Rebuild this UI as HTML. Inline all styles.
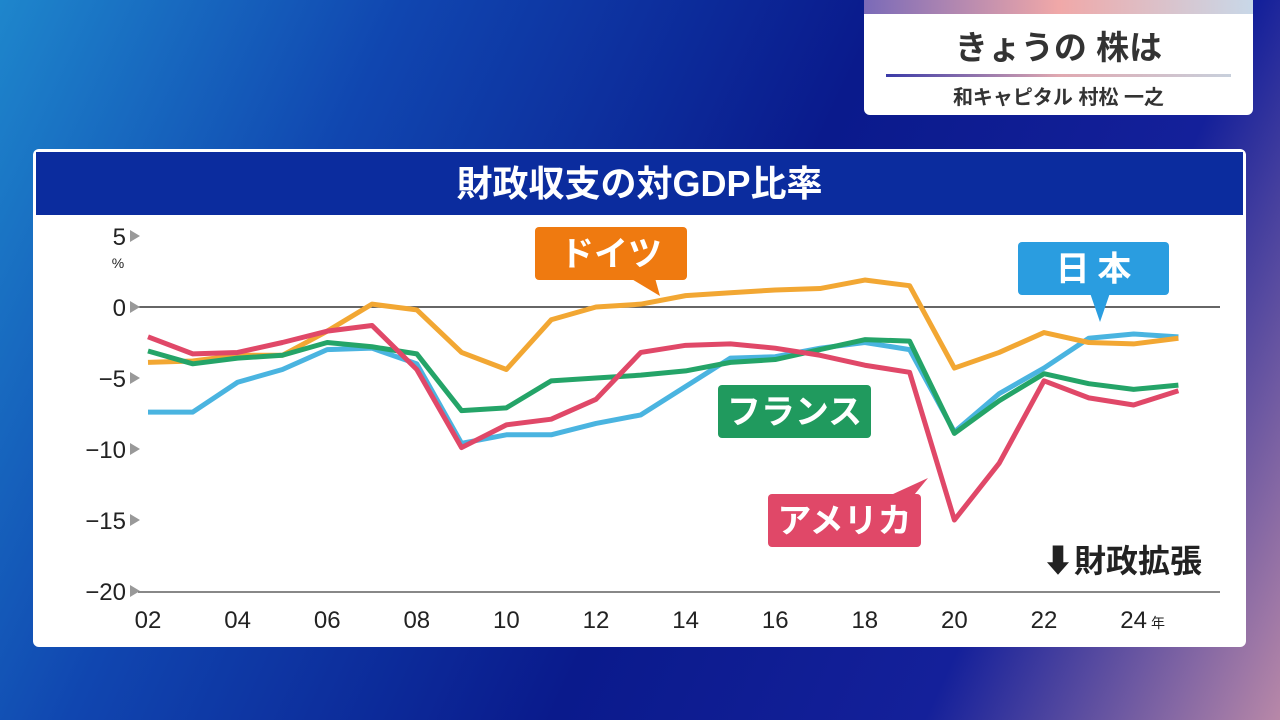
<!DOCTYPE html>
<html><head><meta charset="utf-8">
<style>
body{margin:0;width:1280px;height:720px;overflow:hidden;font-family:"Liberation Sans","Noto Sans CJK JP",sans-serif;}
#bg{position:absolute;left:0;top:0;width:1280px;height:720px;background:linear-gradient(115deg,#1e86cc 0%,#1046b0 25%,#0a1a8c 55%,#14209a 78%,#b888a8 100%);}
#topbox{position:absolute;left:864px;top:0;width:389px;height:115px;background:#fff;border-radius:0 0 6px 6px;overflow:hidden}
#topbar{position:absolute;left:0;top:0;width:389px;height:14px;background:linear-gradient(90deg,#7a6ab8,#f0a8a8,#c8d8e8)}
#panel{position:absolute;left:33px;top:149px;width:1213px;height:498px;background:#fff;border-radius:6px;overflow:hidden}
#titleband{position:absolute;left:3px;top:3px;width:1207px;height:63px;background:#0b2c9e;color:#fff;font-size:36px;text-align:center;line-height:63px;font-weight:bold}
</style></head><body>
<div id="bg"></div>
<div id="topbox">
<div id="topbar"></div>
<div style="position:absolute;left:0;width:389px;top:26px;line-height:44px;text-align:center;font-size:33px;color:#333;font-weight:bold">きょうの 株は</div>
<div style="position:absolute;left:22px;width:345px;top:74px;height:3px;background:linear-gradient(90deg,#3a3aa8,#e0a8b0,#c8d0dc)"></div>
<div style="position:absolute;left:0;width:389px;top:84px;line-height:28px;text-align:center;font-size:20px;color:#333;font-weight:bold">和キャピタル 村松 一之</div>
</div>
<div id="panel">
<div id="titleband">財政収支の対GDP比率</div>
</div>
<svg id="chart" width="1280" height="720" style="position:absolute;left:0;top:0"></svg>
<script>
const years=[2002,2003,2004,2005,2006,2007,2008,2009,2010,2011,2012,2013,2014,2015,2016,2017,2018,2019,2020,2021,2022,2023,2024,2025];
const germany=[-3.9,-3.8,-3.4,-3.4,-1.7,0.2,-0.2,-3.2,-4.4,-0.9,0.0,0.2,0.8,1.0,1.2,1.3,1.9,1.5,-4.3,-3.2,-1.8,-2.5,-2.6,-2.2];
const japan=[-7.4,-7.4,-5.3,-4.4,-3.0,-2.9,-4.0,-9.6,-9.0,-9.0,-8.2,-7.6,-5.6,-3.6,-3.5,-2.9,-2.5,-3.0,-8.8,-6.1,-4.3,-2.2,-1.9,-2.1];
const france=[-3.1,-4.0,-3.6,-3.4,-2.5,-2.8,-3.3,-7.3,-7.1,-5.2,-5.0,-4.8,-4.5,-3.9,-3.7,-3.0,-2.3,-2.4,-8.9,-6.6,-4.7,-5.4,-5.8,-5.5];
const usa=[-2.1,-3.3,-3.2,-2.5,-1.7,-1.3,-4.4,-9.9,-8.3,-7.9,-6.5,-3.2,-2.7,-2.6,-2.9,-3.4,-4.1,-4.6,-15.0,-11.0,-5.2,-6.4,-6.9,-5.9];
const yTicks=[5,0,-5,-10,-15,-20];
const yTickLabels=["5","0","−5","−10","−15","−20"];
const xTicks=[2002,2004,2006,2008,2010,2012,2014,2016,2018,2020,2022,2024];
const xTickLabels=["02","04","06","08","10","12","14","16","18","20","22","24"];
const NS="http://www.w3.org/2000/svg";
const svg=document.getElementById('chart');
const X=y=>148+(y-2002)*44.8;
const Y=v=>307-v*14.2;
function mk(t,a,p){const e=document.createElementNS(NS,t);for(const k in a)e.setAttribute(k,a[k]);(p||svg).appendChild(e);return e;}
const zl=mk('line',{x1:138,x2:1220,y1:Y(0),y2:Y(0),stroke:'#333','stroke-width':1.5});


yTicks.forEach((v,i)=>{
 const t=mk('text',{x:126,y:Y(v)+9,'text-anchor':'end','font-size':24,fill:'#222','font-family':'Liberation Sans,sans-serif'});
 t.textContent=yTickLabels[i];
 
 
 const tr=mk('polygon',{points:`130,${Y(v)-6} 140,${Y(v)} 130,${Y(v)+6}`,fill:'#999'});
 
 
});
const pct=mk('text',{x:118,y:268,'text-anchor':'middle','font-size':14,fill:'#222'});pct.textContent='%';


const xa=mk('line',{x1:138,x2:1220,y1:592,y2:592,stroke:'#888','stroke-width':2});


xTicks.forEach((yr,i)=>{
 const t=mk('text',{x:X(yr),y:628,'text-anchor':'middle','font-size':24,fill:'#222'});
 t.textContent=xTickLabels[i];
 
 
});
const nen=mk('text',{x:1151,y:628,'font-size':14,fill:'#222','font-family':'Noto Sans CJK JP,sans-serif'});nen.textContent='年';


const series=[[japan,'#4ab4e0','japan-line'],[germany,'#f2a733','germany-line'],[france,'#24a468','france-line'],[usa,'#e04868','usa-line']];
series.forEach(([d,c,n])=>{
 const p=mk('polyline',{points:d.map((v,i)=>X(years[i])+','+Y(v)).join(' '),fill:'none',stroke:c,'stroke-width':5,'stroke-linejoin':'round'});
 
 
});
function label(x,y,w,h,txt,bg,name,tail){
 const g=mk('g',{});
 
 
 if(tail) mk('polygon',{points:tail,fill:bg},g);
 mk('rect',{x:x,y:y,width:w,height:h,rx:4,fill:bg},g);
 const t=mk('text',{x:x+w/2,y:y+h/2+12,'text-anchor':'middle','font-size':34,fill:'#fff','font-weight':'bold','font-family':'Noto Sans CJK JP,sans-serif'},g);
 t.textContent=txt;
}
label(535,227,152,53,'ドイツ','#ef7a10','germany-label','630,278 655,278 660,296');
label(1018,242,151,53,'日 本','#2a9de0','japan-label','1090,293 1110,293 1100,322');
label(718,385,153,53,'フランス','#209a5e','france-label',null);
label(768,494,153,53,'アメリカ','#e04868','usa-label','880,500 910,500 928,478');
const fk=mk('text',{x:1042,y:572,'font-size':32,fill:'#222','font-weight':'bold','font-family':'Noto Sans CJK JP,sans-serif'});fk.textContent='⬇財政拡張';


</script>
</body></html>
